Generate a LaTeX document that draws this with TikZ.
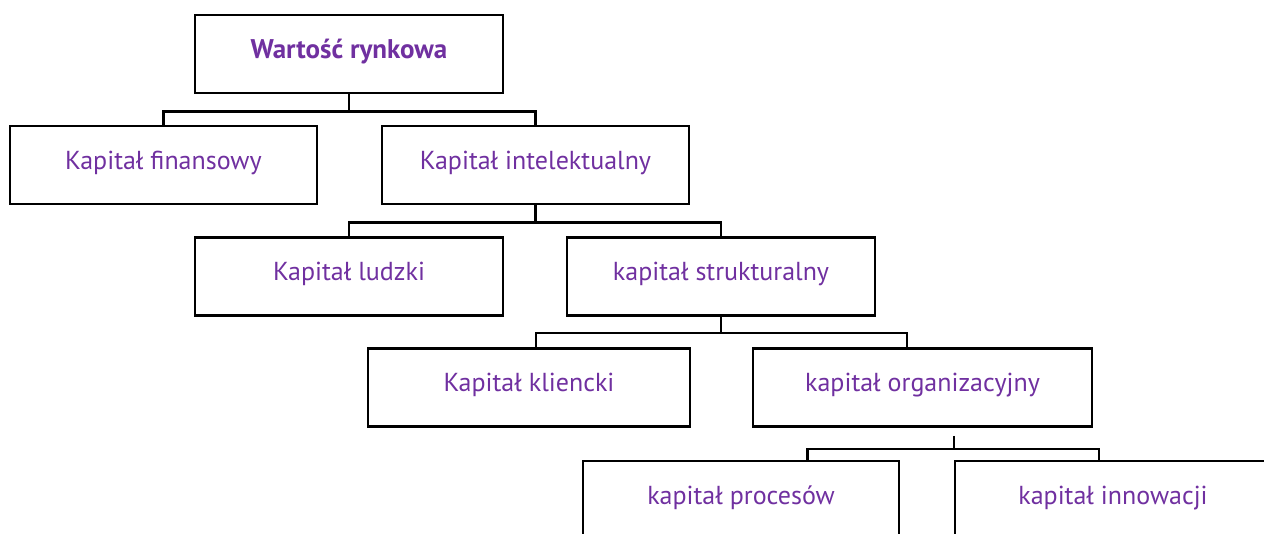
\documentclass[tikz,border=0pt]{standalone}
\usepackage{fontspec}
\setmainfont{PT Sans}
\definecolor{txtpurple}{HTML}{7030A0}
\begin{document}
\begin{tikzpicture}[x=1pt,y=-1pt,
  box/.style={draw=black,line width=2.6pt,rectangle,minimum height=78pt,inner sep=0pt,
    text=txtpurple,font=\fontsize{26}{30}\selectfont,text height=17pt,text depth=8.4pt},
  conn/.style={draw=black,line width=2.4pt}]
\useasboundingbox (0,0) rectangle (1264,533);
\node[box,minimum width=308pt,font=\bfseries\fontsize{27}{30}\selectfont] (A) at (349,54) {Wartość rynkowa};
\node[box,minimum width=307pt] (B) at (163.5,165) {Kapitał finansowy};
\node[box,minimum width=307pt] (C) at (535.5,165) {Kapitał intelektualny};
\node[box,minimum width=308pt] (D) at (349,276.5) {Kapitał ludzki};
\node[box,minimum width=308pt] (E) at (721,276.5) {kapitał strukturalny};
\node[box,minimum width=322pt] (F) at (529,387.5) {Kapitał kliencki};
\node[box,minimum width=339pt] (G) at (922.5,387.5) {kapitał organizacyjny};
\node[box,minimum width=316pt] (H) at (741,500) {kapitał procesów};
\node[box,minimum width=316pt] (I) at (1113,500) {kapitał innowacji};
% connectors
\draw[conn] (A.south) -- ++(0,17) coordinate (a1);
\draw[conn] (B.north) |- (a1) -| (C.north);
\draw[conn] (C.south) -- ++(0,17) coordinate (c1);
\draw[conn] (D.north) |- (c1) -| (E.north);
\draw[conn] (E.south) -- ++(0,16) coordinate (e1);
\draw[conn] ([xshift=7pt]F.north) |- (e1) -| ([xshift=-15.5pt]G.north);
\coordinate (g0) at ([xshift=31.5pt,yshift=-8pt]G.south);
\draw[conn] (g0) -- ++(0,13) coordinate (g1);
\draw[conn] ([xshift=66.5pt]H.north) |- (g1) -| ([xshift=-14pt]I.north);
\end{tikzpicture}
\end{document}
